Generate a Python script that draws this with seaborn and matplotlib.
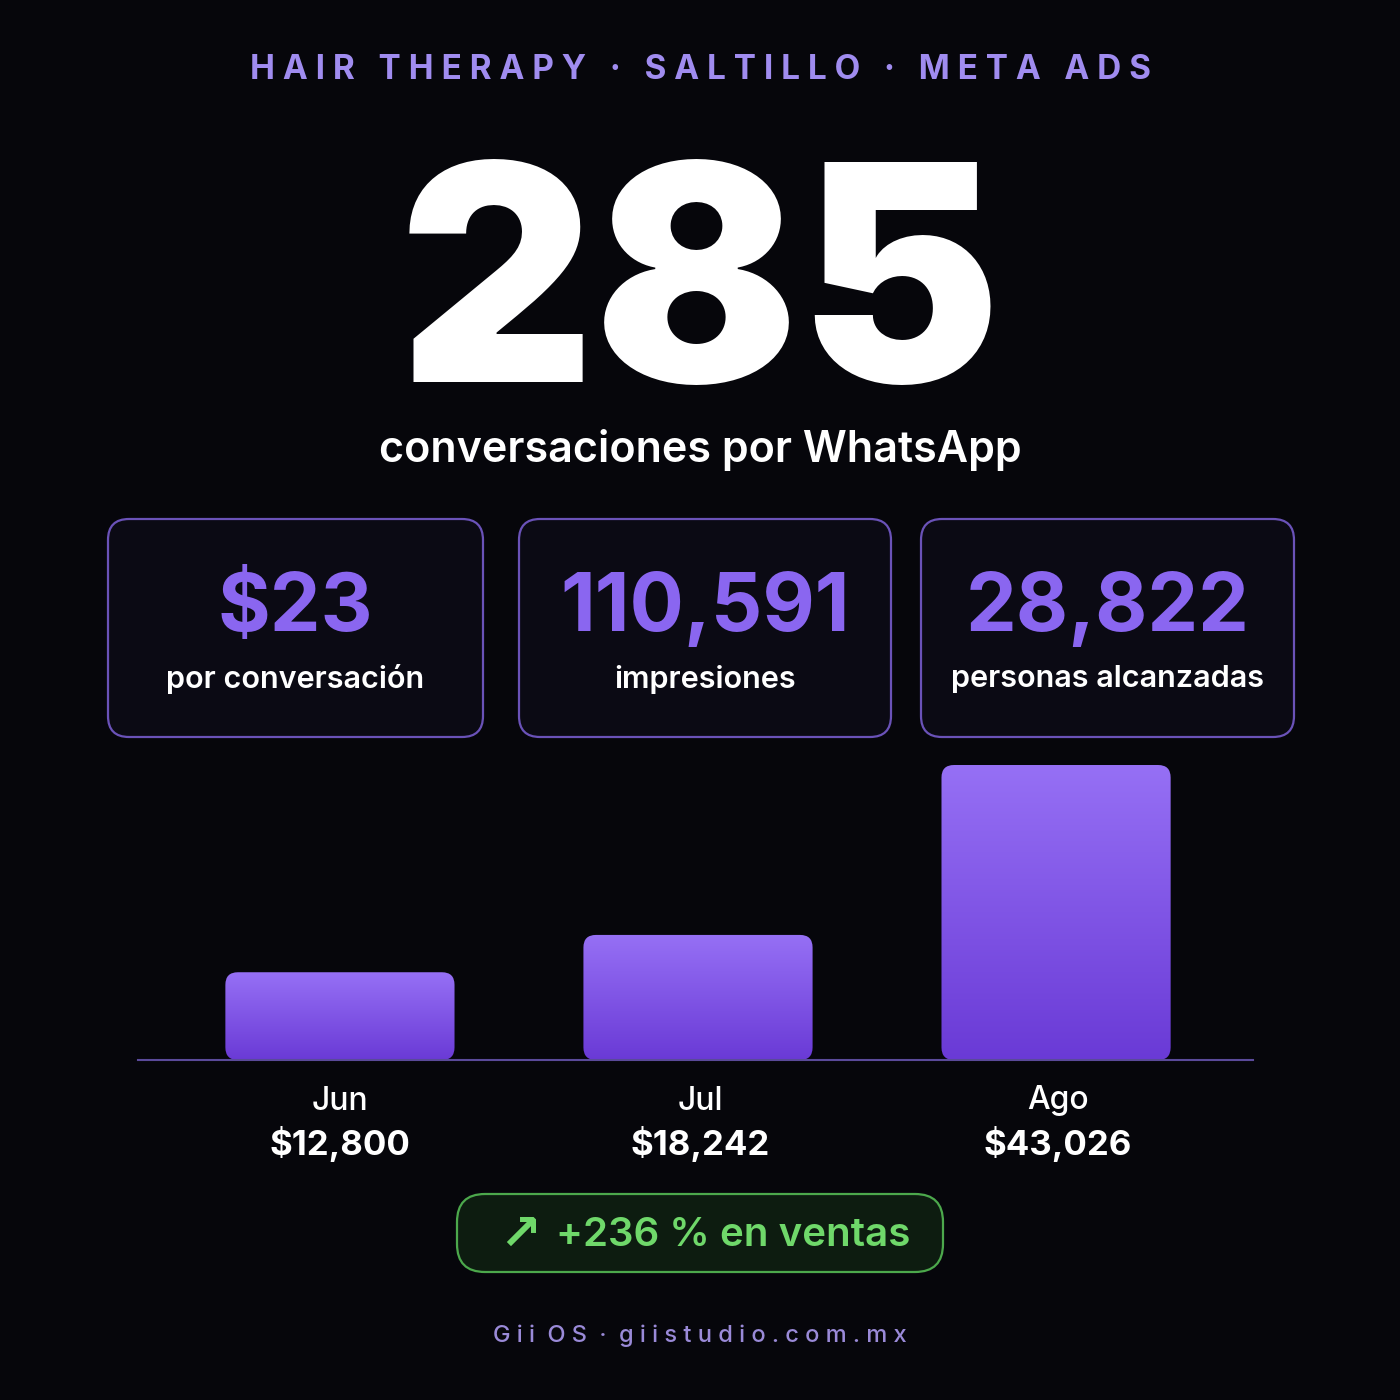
import matplotlib
matplotlib.use("Agg")
import matplotlib.pyplot as plt
import seaborn as sns
import numpy as np
from matplotlib.patches import FancyBboxPatch
from matplotlib.colors import LinearSegmentedColormap

months = ["Jun", "Jul", "Ago"]
sales = [12800, 18242, 43026]
sales_labels = ["$12,800", "$18,242", "$43,026"]
kpi_values = ["$23", "110,591", "28,822"]
kpi_labels = ["por conversación", "impresiones", "personas alcanzadas"]
headline = "285"

sns.set_theme(style="white")
plt.rcParams['font.family'] = ['Inter', 'DejaVu Sans']
BG = "#06060b"
PURPLE = "#8a66f0"
fig = plt.figure(figsize=(14, 14), dpi=100, facecolor=BG)

def fy(px): return 1 - px / 1400
def fx(px): return px / 1400

fig.text(0.5, fy(70), "H A I R   T H E R A P Y   ·   S A L T I L L O   ·   M E T A   A D S",
         ha="center", va="center", color="#a08cf0", fontsize=24, fontweight="bold")
fig.text(0.5, fy(272), headline, ha="center", va="center_baseline", color="white",
         fontsize=218, fontweight="black")
fig.text(0.5, fy(450), "conversaciones por WhatsApp", ha="center", va="center",
         color="white", fontsize=31, fontweight="semibold")

boxes = [(108, 483), (519, 891), (921, 1294)]
for (x0, x1), v, l in zip(boxes, kpi_values, kpi_labels):
    p = FancyBboxPatch((fx(x0), fy(737)), fx(x1 - x0), (737 - 519) / 1400,
                       boxstyle="round,pad=0,rounding_size=0.015",
                       transform=fig.transFigure, facecolor="#0b0a14",
                       edgecolor="#6a52b8", linewidth=1.6)
    fig.patches.append(p)
    cx = fx((x0 + x1) / 2)
    fig.text(cx, fy(610), v, ha="center", va="center", color=PURPLE,
             fontsize=58, fontweight="bold")
    fig.text(cx, fy(679), l, ha="center", va="center", color="white",
             fontsize=22, fontweight="semibold")

ax = fig.add_axes([fx(138), fy(1060), fx(1253 - 138), 300 / 1400])
ax.set_facecolor(BG)
ymax = 43026 / 295 * 300
sns.barplot(x=months, y=sales, ax=ax, width=0.64, color=PURPLE)
grad = np.linspace(0, 1, 256).reshape(-1, 1)
cmap = LinearSegmentedColormap.from_list("g", ["#6a3ad6", "#9670f5"])
aspect = (ymax / 300) * 358
for bar in list(ax.patches):
    x, w, h = bar.get_x(), bar.get_width(), bar.get_height()
    bar.set_visible(False)
    rp = FancyBboxPatch((x, 0), w, h, boxstyle="round,pad=0,rounding_size=0.035",
                        mutation_aspect=aspect, facecolor="none", edgecolor="none")
    ax.add_patch(rp)
    im = ax.imshow(grad, extent=(x, x + w, 0, h), origin="lower", cmap=cmap,
                   aspect="auto", zorder=2)
    im.set_clip_path(rp)
ax.set_xlim(-0.564, 2.55)
ax.set_ylim(0, ymax)
for s in ["top", "right", "left"]:
    ax.spines[s].set_visible(False)
ax.spines["bottom"].set_color("#5a4a9a")
ax.spines["bottom"].set_linewidth(1.5)
ax.set_xticks([]); ax.set_yticks([])

for cxp, m, s in zip([340, 700, 1058], months, sales_labels):
    fig.text(fx(cxp), fy(1101), m, ha="center", va="center", color="white",
             fontsize=23, fontweight="medium")
    fig.text(fx(cxp), fy(1144), s, ha="center", va="center", color="white",
             fontsize=25, fontweight="bold")

pill = FancyBboxPatch((fx(457), fy(1272)), fx(943 - 457), 78 / 1400,
                      boxstyle="round,pad=0,rounding_size=0.02",
                      transform=fig.transFigure, facecolor="#0d1c10",
                      edgecolor="#4ca84c", linewidth=1.6)
fig.patches.append(pill)
fig.text(fx(520), fy(1235), "↗", ha="center", va="center",
         color="#6fd86a", fontsize=36, fontweight="bold", family=['DejaVu Sans'])
fig.text(fx(733), fy(1235), "+236 % en ventas", ha="center", va="center",
         color="#6fd86a", fontsize=29, fontweight="semibold")

fig.text(0.5, fy(1336), "G i i  O S  ·  g i i s t u d i o . c o m . m x", ha="center",
         va="center", color="#9a8ad8", fontsize=17, fontweight="medium")

fig.savefig("out.png", dpi=100, facecolor=BG)
